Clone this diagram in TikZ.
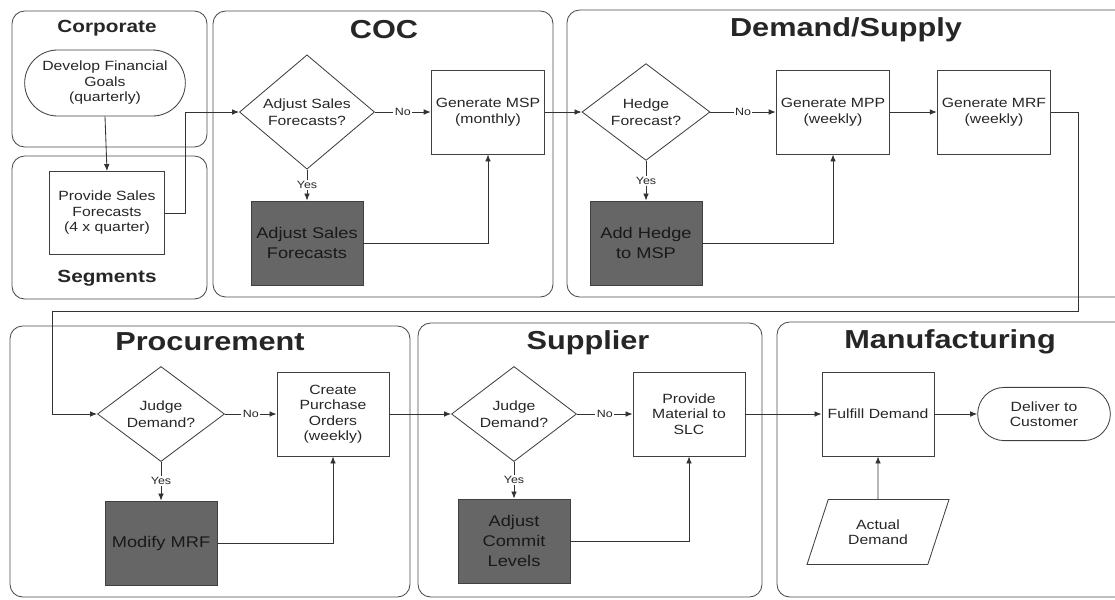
\documentclass[tikz,border=0pt]{standalone}
\usepackage{fontspec}
\setmainfont{Liberation Sans}[FakeStretch=1.18]
\usepackage{tikz}
\usetikzlibrary{shapes.geometric,shapes.misc,arrows.meta}

\begin{document}
\begin{tikzpicture}[
    x=0.025cm, y=-0.025cm,
    lane/.style={draw=black!70, line width=0.6pt, rounded corners=9pt},
    title/.style={font=\fontsize{18.5}{22}\selectfont\bfseries, text=black!85},
    subtitle/.style={font=\fontsize{12.5}{15}\selectfont\bfseries, text=black!85},
    box/.style={rectangle, draw=black!75, line width=0.6pt, minimum width=2.8cm, minimum height=2.1cm, align=center, text=black!85, font=\fontsize{9.5}{11}\selectfont},
    darkbox/.style={box, fill=black!60, text=black!90, font=\fontsize{11}{14}\selectfont},
    decision/.style={diamond, draw=black!75, line width=0.6pt, minimum width=3.2cm, minimum height=2.35cm, inner sep=0pt, align=center, text=black!85, font=\fontsize{9.5}{12}\selectfont},
    term/.style={rounded rectangle, draw=black!75, line width=0.6pt, align=center, text=black!85, font=\fontsize{9.5}{11}\selectfont},
    datain/.style={trapezium, trapezium left angle=67, trapezium right angle=113, trapezium stretches=true, draw=black!75, line width=0.6pt, align=center, text=black!85, font=\fontsize{9.5}{11}\selectfont},
    flow/.style={draw=black!80, line width=0.6pt, -{Latex[length=5pt,width=4pt]}},
    lbl/.style={fill=white, inner sep=1pt, text=black!85, font=\fontsize{7.5}{9}\selectfont}
]
    \useasboundingbox (0,0) rectangle (1115,599);
    \clip (0,0) rectangle (1115,599);

    % Lanes
    \draw[lane] (12,11) rectangle (207,147);
    \draw[lane] (12,156) rectangle (207,299);
    \draw[lane] (213,11) rectangle (553,297);
    \draw[lane] (567,10) rectangle (1140,297);
    \draw[lane] (10,326) rectangle (410,597);
    \draw[lane] (418,323) rectangle (762,597);
    \draw[lane] (777,322) rectangle (1140,597);

    % Lane titles
    \node[subtitle] (corptitle) at (107,28) {Corporate};
    \node[subtitle] (segtitle) at (107,278) {Segments};
    \node[title] (coctitle) at (384,30) {COC};
    \node[title] (dstitle) at (846,30) {Demand/Supply};
    \node[title] (proctitle) at (210,342) {Procurement};
    \node[title] (suptitle) at (588,343) {Supplier};
    \node[title] (mfgtitle) at (950,342) {Manufacturing};

    % Corporate and Segments
    \node[term, minimum width=4.25cm, minimum height=1.65cm] (dev) at (105,83) {Develop Financial\\Goals\\(quarterly)};
    \node[box, minimum width=2.875cm, minimum height=2.075cm] (prov) at (107,213) {Provide Sales\\Forecasts\\(4 x quarter)};

    % COC
    \node[decision, minimum width=3.375cm, minimum height=2.4cm] (adjq) at (307,112) {Adjust Sales\\Forecasts?};
    \node[box] (msp) at (488,112) {Generate MSP\\(monthly)};
    \node[darkbox] (adjs) at (307,243) {Adjust Sales\\Forecasts};

    % Demand/Supply
    \node[decision] (hedgeq) at (646,112) {Hedge\\Forecast?};
    \node[box] (mpp) at (833,112) {Generate MPP\\(weekly)};
    \node[box] (mrf) at (994,112) {Generate MRF\\(weekly)};
    \node[darkbox] (addh) at (646,243) {Add Hedge\\to MSP};

    % Procurement
    \node[decision, minimum width=3.175cm] (judgep) at (161,414) {Judge\\Demand?};
    \node[box] (po) at (333,414) {Create\\Purchase\\Orders\\(weekly)};
    \node[darkbox] (modmrf) at (161,543) {Modify MRF};

    % Supplier
    \node[decision, minimum width=3.125cm] (judges) at (514,414) {Judge\\Demand?};
    \node[box] (mat) at (689,414) {Provide\\Material to\\SLC};
    \node[darkbox] (adjc) at (514,541) {Adjust\\Commit\\Levels};

    % Manufacturing
    \node[box] (ful) at (878,414) {Fulfill Demand};
    \node[term, minimum width=3.55cm, minimum height=1.33cm] (deliver) at (1044,414) {Deliver to\\Customer};
    \node[datain, minimum width=3.575cm, minimum height=1.625cm] (actual) at (878,532) {Actual\\Demand};

    \coordinate (wrap) at (52,311);

    % Draw connections
    \draw[flow] (dev.south) -- (prov.north);
    \draw[flow] (prov.east) -- ++(20,0) |- (adjq.west);
    \draw[flow] (adjq.east) -- node[lbl] {No} (msp.west);
    \draw[flow] (adjq.south) -- node[lbl] {Yes} (adjs.north);
    \draw[flow] (adjs.east) -| (msp.south);
    \draw[flow] (msp.east) -- (hedgeq.west);
    \draw[flow] (hedgeq.east) -- node[lbl] {No} (mpp.west);
    \draw[flow] (hedgeq.south) -- node[lbl] {Yes} (addh.north);
    \draw[flow] (addh.east) -| (mpp.south);
    \draw[flow] (mpp.east) -- (mrf.west);
    \draw[flow] (mrf.east) -- ++(27,0) |- (wrap) |- (judgep.west);
    \draw[flow] (judgep.east) -- node[lbl] {No} (po.west);
    \draw[flow] (judgep.south) -- node[lbl] {Yes} (modmrf.north);
    \draw[flow] (modmrf.east) -| (po.south);
    \draw[flow] (po.east) -- (judges.west);
    \draw[flow] (judges.east) -- node[lbl] {No} (mat.west);
    \draw[flow] (judges.south) -- node[lbl] {Yes} (adjc.north);
    \draw[flow] (adjc.east) -| (mat.south);
    \draw[flow] (mat.east) -- (ful.west);
    \draw[flow] (ful.east) -- (deliver.west);
    \draw[flow] (actual.north) -- (ful.south);
\end{tikzpicture}
\end{document}
